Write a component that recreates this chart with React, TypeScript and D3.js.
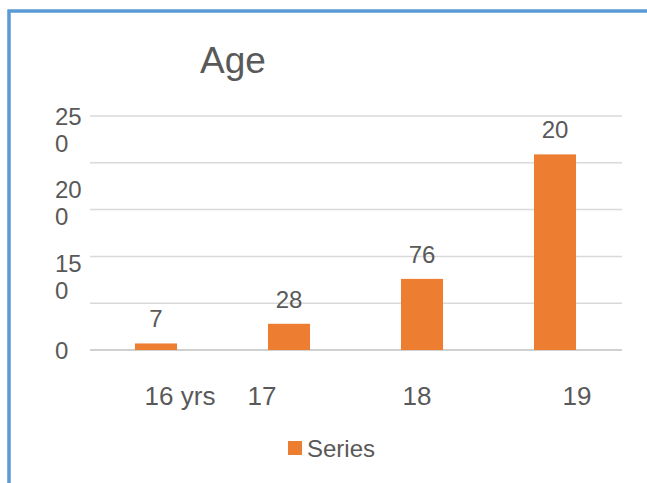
import React from 'react';
import * as d3 from 'd3';

// chart data
const categories = ['16 yrs', '17', '18', '19'];
const values = [7, 28, 76, 209];
const valueLabels = ['7', '28', '76', '20']; // last label is clipped in the original
const gridValues = [0, 50, 100, 150, 200, 250];
const yTickLabels = [['25', '0'], ['20', '0'], ['15', '0'], ['0']];
const title = 'Age';
const seriesName = 'Series';

// small nudges so category labels sit where the original puts them
const catLabelShift = [24, -27, -5, 22];

const W = 647;
const H = 483;
const TEXT = '#595959';
const BAR = '#ed7d31';
const FONT = '"Liberation Sans", Arial, sans-serif';

export default function App() {
  const x = d3.scaleBand()
    .domain(categories)
    .range([89.5, 621.5])
    .paddingInner(0.684)
    .paddingOuter(0.342);

  const y = d3.scaleLinear()
    .domain([0, 250])
    .range([350, 116]);

  // the wrapped tick labels are spread evenly in the original
  const labelY = d3.scalePoint<number>()
    .domain(d3.range(yTickLabels.length))
    .range([130, 351]);

  return (
    <svg width={W} height={H} style={{ position: 'fixed', left: 0, top: 0, background: '#fff' }}
      fontFamily={FONT}>
      {/* chart frame */}
      <rect x={9} y={11} width={W + 20} height={H + 20} fill="#fff" stroke="#5b9bd5" strokeWidth={3.5} />

      <text x={200} y={73} fontSize={37} fill={TEXT}>{title}</text>

      {/* gridlines */}
      {gridValues.map(v => (
        <line key={v} x1={90} x2={622} y1={y(v)} y2={y(v)}
          stroke={v === 0 ? '#d0d0d0' : '#d9d9d9'} strokeWidth={v === 0 ? 2 : 1.5} />
      ))}

      {/* y tick labels */}
      {yTickLabels.map((lines, i) => {
        const cy = labelY(i)!;
        const lh = 27;
        const top = cy - (lines.length - 1) * lh / 2;
        return (
          <text key={i} x={55} fontSize={24} fill={TEXT}>
            {lines.map((l, j) => (
              <tspan key={j} x={55} y={top + j * lh + 8}>{l}</tspan>
            ))}
          </text>
        );
      })}

      {/* bars */}
      {categories.map((c, i) => (
        <rect key={c} x={x(c)} y={y(values[i])} width={x.bandwidth()}
          height={y(0) - y(values[i])} fill={BAR} />
      ))}

      {/* data labels */}
      {categories.map((c, i) => (
        <text key={c} x={x(c)! + x.bandwidth() / 2} y={y(values[i]) - 16}
          textAnchor="middle" fontSize={24} fill={TEXT}>{valueLabels[i]}</text>
      ))}

      {/* category labels */}
      {categories.map((c, i) => (
        <text key={c} x={x(c)! + x.bandwidth() / 2 + catLabelShift[i]} y={405}
          textAnchor="middle" fontSize={26} fill={TEXT}>{c}</text>
      ))}

      {/* legend */}
      <rect x={288} y={441} width={14} height={14} fill={BAR} />
      <text x={307} y={457} fontSize={24} fill={TEXT}>{seriesName}</text>
    </svg>
  );
}
